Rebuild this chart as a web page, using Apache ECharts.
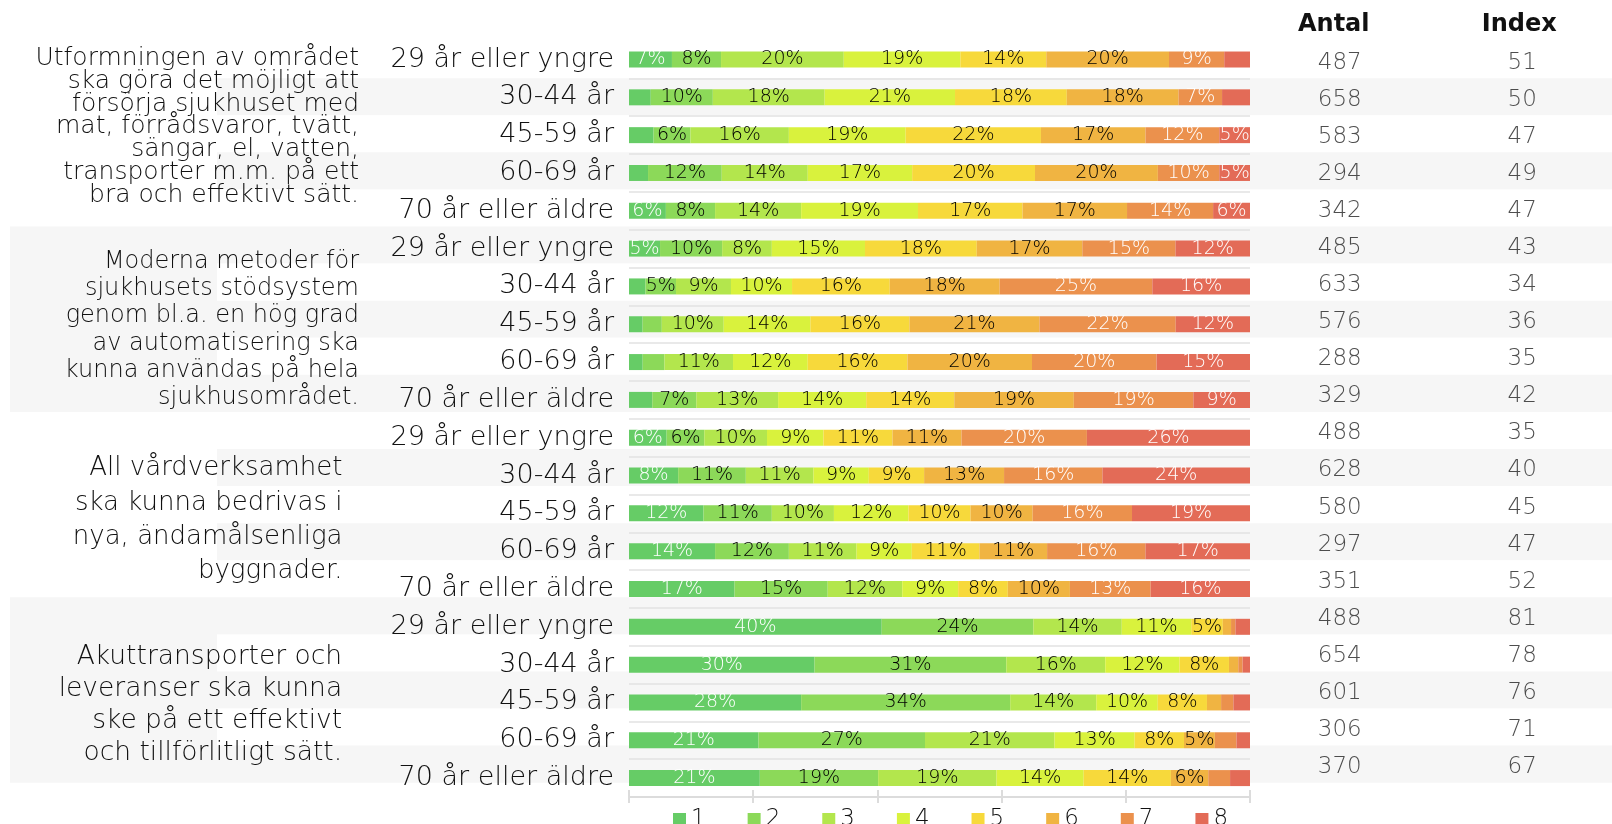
<!DOCTYPE html>
<html>
<head>
<meta charset="utf-8">
<script src="https://cdn.jsdelivr.net/npm/echarts@6/dist/echarts.min.js"></script>
<style>
  html, body { margin: 0; padding: 0; background: #fff; }
  #chart { width: 1612px; height: 824px; }
</style>
</head>
<body>
<div id="chart"></div>
<script>
// data
var groups = [
  'Utformningen av området\nska göra det möjligt att\nförsörja sjukhuset med\nmat, förrådsvaror, tvätt,\nsängar, el, vatten,\ntransporter m.m. på ett\nbra och effektivt sätt.',
  'Moderna metoder för\nsjukhusets stödsystem\ngenom bl.a. en hög grad\nav automatisering ska\nkunna användas på hela\nsjukhusområdet.',
  'All vårdverksamhet\nska kunna bedrivas i\nnya, ändamålsenliga\nbyggnader.',
  'Akuttransporter och\nleveranser ska kunna\nske på ett effektivt\noch tillförlitligt sätt.'
];
var ages = ['29 år eller yngre', '30-44 år', '45-59 år', '60-69 år', '70 år eller äldre'];
var answers = ['1', '2', '3', '4', '5', '6', '7', '8'];
var colors = ['#66cc66', '#8cd959', '#b3e64d', '#d9f23d', '#f7d93b', '#f0b442', '#eb914d', '#e36b57'];

// share (%) per answer 1..8, one row per age group
var g1Shares = [
  [7, 8, 20, 19, 14, 20, 9, 4.2],
  [3.5, 10, 18, 21, 18, 18, 7, 4.5],
  [4, 6, 16, 19, 22, 17, 12, 5],
  [3.1, 12, 14, 17, 20, 20, 10, 5],
  [6, 8, 14, 19, 17, 17, 14, 6]
];
var g2Shares = [
  [5, 10, 8, 15, 18, 17, 15, 12],
  [2.7, 5, 9, 10, 16, 18, 25, 16],
  [2.2, 3.1, 10, 14, 16, 21, 22, 12],
  [2.2, 3.5, 11, 12, 16, 20, 20, 15],
  [3.7, 7, 13, 14, 14, 19, 19, 9]
];
var g3Shares = [
  [6, 6, 10, 9, 11, 11, 20, 26],
  [8, 11, 11, 9, 9, 13, 16, 24],
  [12, 11, 10, 12, 10, 10, 16, 19],
  [14, 12, 11, 9, 11, 11, 16, 17],
  [17, 15, 12, 9, 8, 10, 13, 16]
];
var g4Shares = [
  [40, 24, 14, 11, 5, 1.3, 0.7, 2.3],
  [30, 31, 16, 12, 8, 1.5, 0.7, 1.2],
  [28, 34, 14, 10, 8, 2.3, 2, 2.7],
  [21, 27, 21, 13, 8, 5, 3.5, 2.2],
  [21, 19, 19, 14, 14, 6, 3.5, 3.2]
];
var antal = [487, 658, 583, 294, 342, 485, 633, 576, 288, 329, 488, 628, 580, 297, 351, 488, 654, 601, 306, 370];
var index = [51, 50, 47, 49, 47, 43, 34, 36, 35, 42, 35, 40, 45, 47, 52, 81, 78, 76, 71, 67];

var FONT = 'DejaVu Sans';
var rows = g1Shares.concat(g2Shares, g3Shares, g4Shares);
var rowLabels = [];
groups.forEach(function () { rowLabels = rowLabels.concat(ages); });
var rowIds = rowLabels.map(function (l, i) { return i + ''; });

var chart = echarts.init(document.getElementById('chart'));

var TOP = 41.1, TABLE_H = 741.6;

var barSeries = answers.map(function (name, k) {
  return {
    name: name,
    type: 'bar',
    stack: 'total',
    xAxisIndex: 0,
    yAxisIndex: 0,
    barWidth: 16,
    itemStyle: { color: colors[k] },
    label: {
      show: true,
      position: 'inside',
      fontFamily: FONT,
      fontWeight: 200,
      fontSize: 19,
      color: (k === 0 || k >= 6) ? '#ffffff' : '#000000',
      formatter: function (p) { return p.data.raw >= 5 ? Math.round(p.data.raw) + '%' : ''; }
    },
    data: rows.map(function (r) {
      var sum = r.reduce(function (a, b) { return a + b; }, 0);
      return { value: r[k] / sum * 100, raw: r[k] };
    })
  };
});

var hiddenX = function (gi) {
  return { type: 'value', gridIndex: gi, show: false, min: 0, max: 1 };
};

// group text styling: font size, line height, vertical shift
var groupFont = [25, 24, 26, 26.5];
var groupLh = [22.8, 27.3, 34.3, 32];
var groupShift = [-7, 10.5, 15.5, 15];
var groupRich = {};
groups.forEach(function (g, i) {
  groupRich['t' + i] = { fontFamily: FONT, fontWeight: 200, fontSize: groupFont[i], lineHeight: groupLh[i], color: '#111', align: 'right' };
  groupRich['s' + i] = { fontSize: 2, lineHeight: Math.abs(groupShift[i]) * 2, align: 'right' };
});

var numLabel = function (dx) {
  return {
    show: true, position: 'inside', offset: [dx, 3], fontFamily: FONT, fontWeight: 200, fontSize: 23, color: '#222',
    formatter: function (p) { return p.value[2]; }
  };
};

var option = {
  animation: false,
  textStyle: { fontFamily: FONT },
  grid: [
    { left: 629, width: 621, top: 40.6, height: 756.4 },          // bars
    { left: 217, right: 0, top: TOP, height: TABLE_H },           // row bands
    { left: 10, width: 207, top: TOP, height: TABLE_H },          // group bands
    { left: 0, width: 359, top: TOP, height: TABLE_H },           // group texts
    { left: 1241, width: 384, top: TOP, height: TABLE_H }         // Antal / Index
  ],
  legend: {
    data: answers,
    left: 668,
    top: 803,
    itemWidth: 13,
    itemHeight: 13,
    itemGap: 42,
    icon: 'rect',
    textStyle: { fontFamily: FONT, fontWeight: 200, fontSize: 23, color: '#111' }
  },
  xAxis: [
    {
      type: 'value', gridIndex: 0, min: 0, max: 100, interval: 20,
      axisLabel: { show: false },
      splitLine: { show: false },
      axisLine: { show: true, lineStyle: { color: '#dcdcdc', width: 2 } },
      axisTick: { show: true, length: 6, lineStyle: { color: '#dcdcdc', width: 2 } }
    },
    {
      type: 'value', gridIndex: 0, min: 0, max: 100, interval: 20, position: 'bottom',
      axisLabel: { show: false },
      splitLine: { show: false },
      axisLine: { show: false },
      axisTick: { show: true, inside: true, length: 7, lineStyle: { color: '#dcdcdc', width: 2 } }
    },
    hiddenX(1),
    hiddenX(2),
    hiddenX(3),
    {
      type: 'category', gridIndex: 4, position: 'top', data: ['Antal', 'Index'],
      axisLine: { show: false }, axisTick: { show: false },
      axisLabel: { margin: 4, fontFamily: FONT, fontWeight: 'bold', fontSize: 24, color: '#111' }
    }
  ],
  yAxis: [
    {
      type: 'category', gridIndex: 0, inverse: true, data: rowIds, z: 2,
      axisLine: { show: false }, axisTick: { show: false },
      axisLabel: {
        margin: 15, fontFamily: FONT, fontWeight: 200, fontSize: 27, color: '#111',
        formatter: function (v) { return rowLabels[+v]; }
      },
      splitLine: { show: true, showMinLine: false, showMaxLine: false, lineStyle: { color: '#e2e2e2', width: 1.5 } }
    },
    {
      type: 'category', gridIndex: 1, inverse: true, data: rowIds, z: 0,
      axisLine: { show: false }, axisTick: { show: false }, axisLabel: { show: false },
      splitLine: { show: false },
      splitArea: { show: true, areaStyle: { color: ['#ffffff', '#f6f6f6'] } }
    },
    {
      type: 'category', gridIndex: 2, inverse: true, data: ['a', 'b', 'c', 'd'], z: 0,
      axisLine: { show: false }, axisTick: { show: false }, axisLabel: { show: false },
      splitLine: { show: false },
      splitArea: { show: true, areaStyle: { color: ['rgba(0,0,0,0)', '#f6f6f6'] } }
    },
    {
      type: 'category', gridIndex: 3, inverse: true, position: 'right', z: 3,
      data: ['0', '1', '2', '3'],
      axisLine: { show: false }, axisTick: { show: false },
      axisLabel: {
        inside: true, margin: 0, align: 'right',
        formatter: function (v) {
          var i = +v;
          var pad = (i >= 2) ? '  ' : '';
          var lines = groups[i].split('\n').map(function (l) { return '{t' + i + '|' + l + pad + '}'; });
          var sp = '{s' + i + '| }';
          if (groupShift[i] > 0) lines.unshift(sp); else lines.push(sp);
          return lines.join('\n');
        },
        rich: groupRich
      },
      splitLine: { show: false }
    },
    {
      type: 'category', gridIndex: 4, inverse: true, data: rowIds, show: false
    }
  ],
  series: barSeries.concat([
    {
      type: 'scatter', xAxisIndex: 5, yAxisIndex: 4, symbolSize: 1,
      itemStyle: { color: 'rgba(0,0,0,0)' },
      label: numLabel(6),
      data: antal.map(function (v, i) { return [0, i, v]; })
    },
    {
      type: 'scatter', xAxisIndex: 5, yAxisIndex: 4, symbolSize: 1,
      itemStyle: { color: 'rgba(0,0,0,0)' },
      label: numLabel(3),
      data: index.map(function (v, i) { return [1, i, v]; })
    }
  ])
};

chart.setOption(option);
</script>
</body>
</html>
